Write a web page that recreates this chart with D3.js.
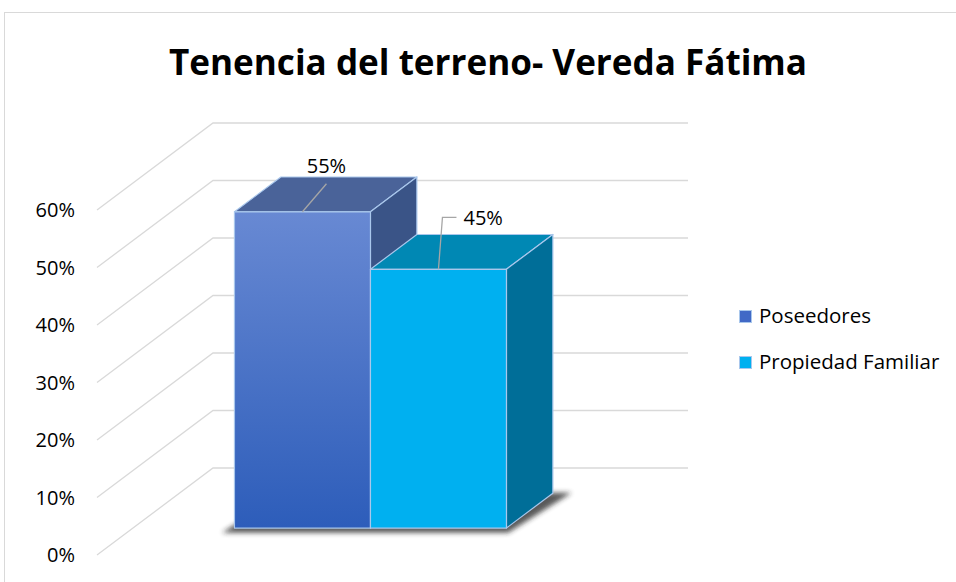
<!DOCTYPE html>
<html>
<head>
<meta charset="utf-8">
<script src="https://cdn.jsdelivr.net/npm/d3@7"></script>
<style>
  html, body { margin: 0; padding: 0; background: #fff; }
  svg { display: block; }
  text { font-family: "Open Sans", "Noto Sans", sans-serif; }
</style>
</head>
<body>
<svg id="chart" width="956" height="582"></svg>
<script>
// ---- data ----
const title = "Tenencia del terreno- Vereda Fátima";
const seriesNames = ["Poseedores", "Propiedad Familiar"];
const seriesValues = [0.55, 0.45];
const valueLabels = ["55%", "45%"];
const tickValues = [0, 0.1, 0.2, 0.3, 0.4, 0.5, 0.6];
const tickLabels = ["0%", "10%", "20%", "30%", "40%", "50%", "60%"];

// ---- styles ----
const frontTop = ["#6889d3", "#00b0f0"];
const frontBottom = ["#2d5dba", "#00b0f0"];
const topColors = ["#4a6399", "#0088b4"];
const sideColors = ["#3a5487", "#006e98"];
const legendColors = ["#4169c6", "#00b0f0"];

const svg = d3.select("#chart");
const defs = svg.append("defs");

// frame
svg.append("rect").attr("x", 4.5).attr("y", 12.5).attr("width", 970).attr("height", 600)
  .attr("fill", "#fff").attr("stroke", "#d9d9d9").attr("stroke-width", 1);

// ---- 3D layout ----
const originX = 97;          // front-left of the floor
const plotW = 475;           // width of the back wall
const depthDX = 116, depthDY = 87;
const y = d3.scaleLinear().domain([0, 0.6]).range([468, 123]); // back wall
const proj = (px, v, z) => [originX + px + z * depthDX, y(v) + (1 - z) * depthDY];

const bw = 136;
const outer = (plotW - bw * seriesNames.length) / 2 / bw;
const x = d3.scaleBand().domain(seriesNames).range([0, plotW]).paddingInner(0).paddingOuter(outer);
const z0 = 0.31, z1 = 0.71;

// gridlines (side wall + back wall)
const grid = svg.append("g").attr("stroke", "#d9d9d9").attr("stroke-width", 1.3).attr("fill", "none");
tickValues.forEach(t => {
  const a = proj(0, t, 0), b = proj(0, t, 1), c = proj(plotW, t, 1);
  grid.append("polyline").attr("points", [a, b, c].map(p => p.join(",")).join(" "));
});

// tick labels
svg.append("g").selectAll("text").data(tickValues).join("text")
  .attr("x", 75).attr("y", d => proj(0, d, 0)[1] + 7)
  .attr("text-anchor", "end").attr("font-size", 20).attr("fill", "#000")
  .text((d, i) => tickLabels[i]);

// shadow
const f = defs.append("filter").attr("id", "blur").attr("x", "-20%").attr("y", "-50%").attr("width", "140%").attr("height", "200%");
f.append("feGaussianBlur").attr("stdDeviation", 2.5);
const xs = x(seriesNames[0]), xe = x(seriesNames[seriesNames.length - 1]) + x.bandwidth();
const sh = [proj(xs - 10, 0, z0 - 0.02), proj(xe + 4, 0, z0 - 0.02), proj(xe + 14, 0, z1 + 0.04), proj(xs, 0, z1 + 0.04)]
  .map(p => [p[0], p[1] + 3]);
svg.append("polygon").attr("points", sh.map(p => p.join(",")).join(" "))
  .attr("fill", "#222").attr("opacity", 0.75).attr("filter", "url(#blur)");

// gradients
seriesNames.forEach((s, i) => {
  const g = defs.append("linearGradient").attr("id", "grad" + i).attr("x1", 0).attr("y1", 0).attr("x2", 0).attr("y2", 1);
  g.append("stop").attr("offset", "0%").attr("stop-color", frontTop[i]);
  g.append("stop").attr("offset", "100%").attr("stop-color", frontBottom[i]);
});

// bars
const bars = svg.append("g").attr("stroke", "#a9c7ec").attr("stroke-width", 1.2).attr("stroke-linejoin", "round");
seriesNames.forEach((s, i) => {
  const v = seriesValues[i];
  const x0 = x(s), x1 = x0 + x.bandwidth();
  const poly = pts => pts.map(p => p.join(",")).join(" ");
  bars.append("polygon").attr("points", poly([proj(x0, v, z0), proj(x1, v, z0), proj(x1, v, z1), proj(x0, v, z1)]))
    .attr("fill", topColors[i]);
  bars.append("polygon").attr("points", poly([proj(x1, v, z0), proj(x1, v, z1), proj(x1, 0, z1), proj(x1, 0, z0)]))
    .attr("fill", sideColors[i]);
  bars.append("polygon").attr("points", poly([proj(x0, v, z0), proj(x1, v, z0), proj(x1, 0, z0), proj(x0, 0, z0)]))
    .attr("fill", `url(#grad${i})`);
});

// data labels with leader lines
const lab = svg.append("g");
{
  const s = seriesNames[0], v = seriesValues[0];
  const a = proj(x(s) + x.bandwidth() / 2, v, z0);
  lab.append("line").attr("x1", a[0]).attr("y1", a[1]).attr("x2", a[0] + 24).attr("y2", a[1] - 28)
    .attr("stroke", "#a6a6a6").attr("stroke-width", 1.3);
  lab.append("text").attr("x", a[0] + 24).attr("y", a[1] - 39).attr("text-anchor", "middle")
    .attr("font-size", 20).attr("fill", "#000").text(valueLabels[0]);
}
{
  const s = seriesNames[1], v = seriesValues[1];
  const a = proj(x(s) + x.bandwidth() / 2, v, z0);
  lab.append("polyline").attr("points", `${a[0]},${a[1]} ${a[0] + 4},${a[1] - 52} ${a[0] + 18},${a[1] - 52}`)
    .attr("fill", "none").attr("stroke", "#a6a6a6").attr("stroke-width", 1.3);
  lab.append("text").attr("x", a[0] + 25).attr("y", a[1] - 44).attr("text-anchor", "start")
    .attr("font-size", 20).attr("fill", "#000").text(valueLabels[1]);
}

// legend
const leg = svg.append("g");
seriesNames.forEach((s, i) => {
  const ly = 323 + i * 46;
  leg.append("rect").attr("x", 739.5).attr("y", ly - 12.5).attr("width", 12).attr("height", 12)
    .attr("fill", legendColors[i]).attr("stroke", "#a9c7ec").attr("stroke-width", 1);
  leg.append("text").attr("x", 759).attr("y", ly).attr("font-size", 20.5).attr("fill", "#000").text(s);
});

// title
svg.append("text").attr("x", 488).attr("y", 75).attr("text-anchor", "middle")
  .attr("font-size", 36).attr("font-weight", "bold").attr("fill", "#000")
  .attr("textLength", 638).attr("lengthAdjust", "spacingAndGlyphs")
  .text(title);
</script>
</body>
</html>
